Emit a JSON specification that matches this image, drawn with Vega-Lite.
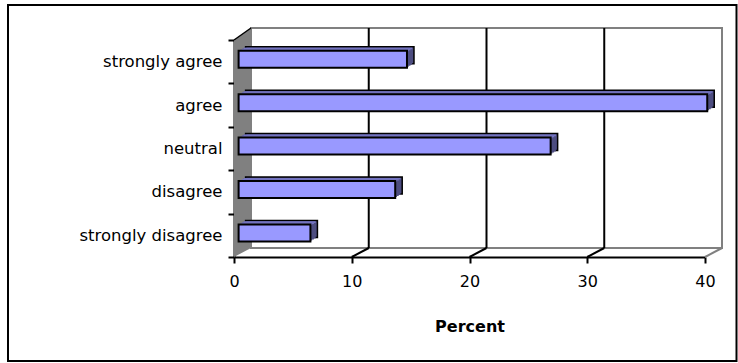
{
  "$schema": "https://vega.github.io/schema/vega-lite/v6.json",
  "width": 471,
  "height": 217,
  "autosize": {"type": "none"},
  "padding": {"left": 234, "top": 40, "right": 33, "bottom": 106},
  "background": "white",
  "config": {
    "view": {"stroke": null},
    "axis": {
      "labelFont": "DejaVu Sans",
      "titleFont": "DejaVu Sans",
      "labelColor": "black",
      "titleColor": "black",
      "domainColor": "black",
      "tickColor": "black",
      "domainWidth": 2,
      "tickWidth": 2,
      "zindex": 1
    }
  },
  "data": {
    "values": [
      {"response": "strongly agree", "percent": 14.3},
      {"response": "agree", "percent": 39.8},
      {"response": "neutral", "percent": 26.5},
      {"response": "disagree", "percent": 13.3},
      {"response": "strongly disagree", "percent": 6.1}
    ]
  },
  "layer": [
    {
      "data": {"values": [{}]},
      "mark": {"type": "rect", "fill": "transparent", "stroke": "black", "strokeWidth": 2, "xOffset": -226, "x2Offset": 31.5, "yOffset": -35, "y2Offset": 104},
      "encoding": {"x": {"datum": 0}, "x2": {"datum": 40}, "y": {"value": 0}, "y2": {"value": "height"}}
    },
    {
      "data": {"values": [{}]},
      "mark": {"type": "rect", "fill": "white", "stroke": "#808080", "strokeWidth": 2, "xOffset": 17, "x2Offset": 17, "yOffset": -12, "y2Offset": -9},
      "encoding": {"x": {"datum": 0}, "x2": {"datum": 40}, "y": {"value": 0}, "y2": {"value": "height"}}
    },
    {
      "data": {"values": [{"t": 10}, {"t": 20}, {"t": 30}]},
      "mark": {"type": "rule", "color": "black", "strokeWidth": 2, "xOffset": 17, "yOffset": -12, "y2Offset": -9},
      "encoding": {"x": {"field": "t", "type": "quantitative"}, "y": {"value": 0}, "y2": {"value": "height"}}
    },
    {
      "data": {"values": [{"t": 10}, {"t": 20}, {"t": 30}]},
      "mark": {"type": "rule", "color": "black", "strokeWidth": 2, "x2Offset": 17, "y2Offset": -9},
      "encoding": {"x": {"field": "t", "type": "quantitative"}, "x2": {"field": "t"}, "y": {"value": "height"}, "y2": {"value": "height"}}
    },
    {
      "data": {"values": [{}]},
      "mark": {"type": "rule", "color": "#808080", "strokeWidth": 2, "x2Offset": 17, "y2Offset": -9},
      "encoding": {"x": {"datum": 40}, "x2": {"datum": 40}, "y": {"value": "height"}, "y2": {"value": "height"}}
    },
    {
      "data": {"values": [{}]},
      "mark": {"type": "point", "shape": "M0,0L17,-9L17,-229L0,-217Z", "size": 4, "filled": true, "fill": "#808080", "opacity": 1, "strokeWidth": 0},
      "encoding": {"x": {"datum": 0}, "y": {"value": "height"}}
    },
    {
      "data": {"values": [{}]},
      "mark": {"type": "rule", "color": "black", "strokeWidth": 1.5, "x2Offset": 17, "y2Offset": -12},
      "encoding": {"x": {"datum": 0}, "x2": {"datum": 0}, "y": {"value": 0}, "y2": {"value": 0}}
    },
    {
      "mark": {"type": "bar", "height": 17, "xOffset": 11.6, "x2Offset": 11.6, "yOffset": -6.4, "fill": "#4D4D80", "stroke": "black", "strokeWidth": 1.5},
      "encoding": {
        "x": {"field": "percent", "type": "quantitative", "scale": {"domain": [0, 40], "nice": false},
          "axis": {"values": [0, 10, 20, 30, 40], "title": "Percent", "grid": false, "tickSize": 6, "labelPadding": 10, "labelFontSize": 16, "titleFontSize": 16, "titleFontWeight": "bold", "titlePadding": 29, "labelFlush": false}},
        "y": {"field": "response", "type": "nominal", "sort": null,
          "scale": {"domain": ["strongly agree", "agree", "neutral", "disagree", "strongly disagree"], "paddingInner": 0, "paddingOuter": 0},
          "axis": {"title": null, "tickBand": "extent", "tickSize": 6, "labelPadding": 6, "labelFontSize": 16.5}}
      }
    },
    {
      "mark": {"type": "bar", "height": 17, "xOffset": 9.85, "x2Offset": 9.85, "yOffset": -5.4, "fill": "#4D4D80"},
      "encoding": {"x": {"field": "percent", "type": "quantitative"}, "y": {"field": "response", "type": "nominal", "sort": null}}
    },
    {
      "mark": {"type": "bar", "height": 17, "xOffset": 8.1, "x2Offset": 8.1, "yOffset": -4.4, "fill": "#4D4D80"},
      "encoding": {"x": {"field": "percent", "type": "quantitative"}, "y": {"field": "response", "type": "nominal", "sort": null}}
    },
    {
      "mark": {"type": "bar", "height": 17, "xOffset": 6.35, "x2Offset": 6.35, "yOffset": -3.4, "fill": "#4D4D80"},
      "encoding": {"x": {"field": "percent", "type": "quantitative"}, "y": {"field": "response", "type": "nominal", "sort": null}}
    },
    {
      "mark": {"type": "bar", "height": 1.6, "xOffset": 9.85, "x2Offset": 9.85, "yOffset": -13.15, "fill": "#7373C0"},
      "encoding": {"x": {"field": "percent", "type": "quantitative"}, "y": {"field": "response", "type": "nominal", "sort": null}}
    },
    {
      "mark": {"type": "bar", "height": 1.6, "xOffset": 8.1, "x2Offset": 8.1, "yOffset": -12.15, "fill": "#7373C0"},
      "encoding": {"x": {"field": "percent", "type": "quantitative"}, "y": {"field": "response", "type": "nominal", "sort": null}}
    },
    {
      "mark": {"type": "bar", "height": 1.6, "xOffset": 6.35, "x2Offset": 6.35, "yOffset": -11.15, "fill": "#7373C0"},
      "encoding": {"x": {"field": "percent", "type": "quantitative"}, "y": {"field": "response", "type": "nominal", "sort": null}}
    },
    {
      "mark": {"type": "bar", "height": 17, "xOffset": 4.6, "x2Offset": 4.6, "yOffset": -2.4, "fill": "#9999FF", "stroke": "black", "strokeWidth": 2},
      "encoding": {"x": {"field": "percent", "type": "quantitative"}, "y": {"field": "response", "type": "nominal", "sort": null}}
    }
  ]
}
